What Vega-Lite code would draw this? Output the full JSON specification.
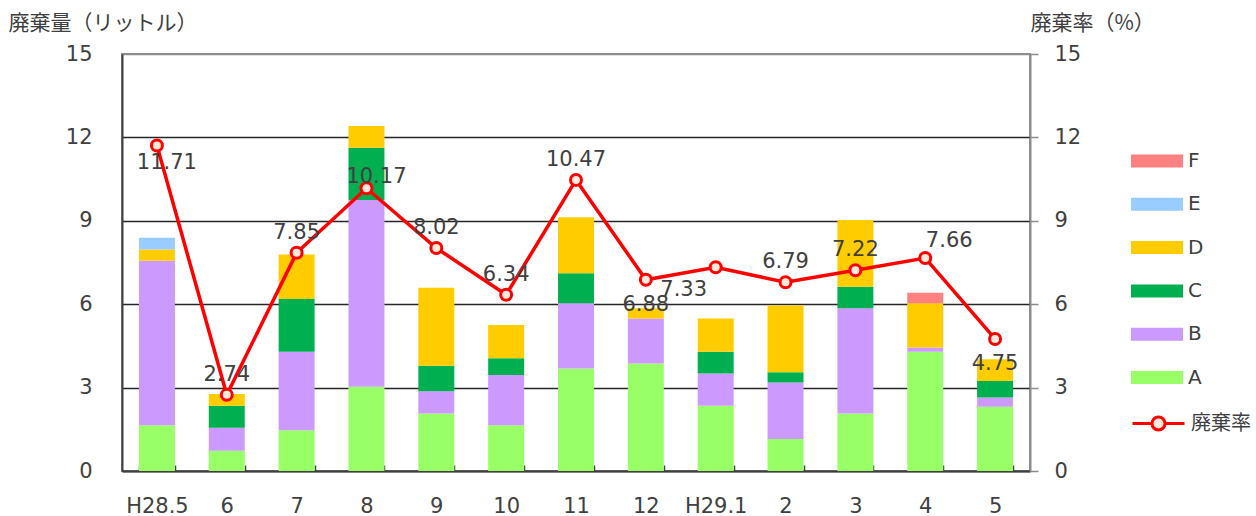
{
  "$schema": "https://vega.github.io/schema/vega-lite/v6.json",
  "width": 908,
  "height": 417,
  "autosize": {"type": "none"},
  "padding": {"left": 122, "top": 54, "right": 226, "bottom": 45},
  "config": {
    "font": "DejaVu Sans",
    "view": {"stroke": "#8c8c8c", "strokeWidth": 2},
    "axis": {
      "labelFont": "DejaVu Sans",
      "labelFontSize": 21,
      "labelColor": "#404040",
      "titleFont": "Noto Sans CJK JP",
      "titleFontSize": 21,
      "titleFontWeight": "normal",
      "titleColor": "#404040"
    },
    "legend": {"labelFont": "Noto Sans CJK JP", "labelFontSize": 20, "labelColor": "#404040", "padding": 0}
  },
  "datasets": {
    "bars": [
      {"month": "H28.5", "cat": "A", "value": 1.65},
      {"month": "H28.5", "cat": "B", "value": 5.91},
      {"month": "H28.5", "cat": "D", "value": 0.41},
      {"month": "H28.5", "cat": "E", "value": 0.42},
      {"month": "6", "cat": "A", "value": 0.73},
      {"month": "6", "cat": "B", "value": 0.83},
      {"month": "6", "cat": "C", "value": 0.79},
      {"month": "6", "cat": "D", "value": 0.42},
      {"month": "7", "cat": "A", "value": 1.47},
      {"month": "7", "cat": "B", "value": 2.82},
      {"month": "7", "cat": "C", "value": 1.90},
      {"month": "7", "cat": "D", "value": 1.60},
      {"month": "8", "cat": "A", "value": 3.03},
      {"month": "8", "cat": "B", "value": 6.72},
      {"month": "8", "cat": "C", "value": 1.88},
      {"month": "8", "cat": "D", "value": 0.78},
      {"month": "9", "cat": "A", "value": 2.07},
      {"month": "9", "cat": "B", "value": 0.80},
      {"month": "9", "cat": "C", "value": 0.92},
      {"month": "9", "cat": "D", "value": 2.80},
      {"month": "10", "cat": "A", "value": 1.65},
      {"month": "10", "cat": "B", "value": 1.80},
      {"month": "10", "cat": "C", "value": 0.61},
      {"month": "10", "cat": "D", "value": 1.19},
      {"month": "11", "cat": "A", "value": 3.69},
      {"month": "11", "cat": "B", "value": 2.34},
      {"month": "11", "cat": "C", "value": 1.08},
      {"month": "11", "cat": "D", "value": 2.02},
      {"month": "12", "cat": "A", "value": 3.87},
      {"month": "12", "cat": "B", "value": 1.62},
      {"month": "12", "cat": "D", "value": 0.36},
      {"month": "H29.1", "cat": "A", "value": 2.35},
      {"month": "H29.1", "cat": "B", "value": 1.16},
      {"month": "H29.1", "cat": "C", "value": 0.78},
      {"month": "H29.1", "cat": "D", "value": 1.20},
      {"month": "2", "cat": "A", "value": 1.15},
      {"month": "2", "cat": "B", "value": 2.03},
      {"month": "2", "cat": "C", "value": 0.37},
      {"month": "2", "cat": "D", "value": 2.40},
      {"month": "3", "cat": "A", "value": 2.07},
      {"month": "3", "cat": "B", "value": 3.78},
      {"month": "3", "cat": "C", "value": 0.78},
      {"month": "3", "cat": "D", "value": 2.40},
      {"month": "4", "cat": "A", "value": 4.29},
      {"month": "4", "cat": "B", "value": 0.15},
      {"month": "4", "cat": "D", "value": 1.59},
      {"month": "4", "cat": "F", "value": 0.38},
      {"month": "5", "cat": "A", "value": 2.31},
      {"month": "5", "cat": "B", "value": 0.33},
      {"month": "5", "cat": "C", "value": 0.60},
      {"month": "5", "cat": "D", "value": 0.78}
    ],
    "rate": [
      {"month": "H28.5", "rate": 11.71},
      {"month": "6", "rate": 2.74},
      {"month": "7", "rate": 7.85},
      {"month": "8", "rate": 10.17},
      {"month": "9", "rate": 8.02},
      {"month": "10", "rate": 6.34},
      {"month": "11", "rate": 10.47},
      {"month": "12", "rate": 6.88},
      {"month": "H29.1", "rate": 7.33},
      {"month": "2", "rate": 6.79},
      {"month": "3", "rate": 7.22},
      {"month": "4", "rate": 7.66},
      {"month": "5", "rate": 4.75}
    ]
  },
  "encoding": {
    "x": {
      "field": "month",
      "type": "nominal",
      "sort": ["H28.5", "6", "7", "8", "9", "10", "11", "12", "H29.1", "2", "3", "4", "5"],
      "scale": {"paddingInner": 0.485, "paddingOuter": 0.2425},
      "axis": {
        "title": null,
        "labelAngle": 0,
        "domainColor": "#404040",
        "domainWidth": 2,
        "tickBand": "extent",
        "tickSize": -6,
        "tickColor": "#404040",
        "tickWidth": 1.5,
        "labelPadding": 30
      }
    }
  },
  "layer": [
    {
      "data": {"name": "bars"},
      "mark": {"type": "bar"},
      "encoding": {
        "y": {
          "field": "value",
          "type": "quantitative",
          "stack": "zero",
          "scale": {"domain": [0, 15]},
          "axis": {
            "title": "廃棄量（リットル）",
            "titleAngle": 0,
            "titleAlign": "left",
            "titleBaseline": "middle",
            "titleX": -114,
            "titleY": -31,
            "values": [0, 3, 6, 9, 12, 15],
            "ticks": false,
            "labelPadding": 30,
            "domainColor": "#404040",
            "domainWidth": 2,
            "grid": true,
            "gridColor": {"condition": {"test": "datum.value === 15", "value": "#8c8c8c"}, "value": "#262626"},
            "gridWidth": 1.5
          }
        },
        "color": {
          "field": "cat",
          "type": "nominal",
          "scale": {
            "domain": ["F", "E", "D", "C", "B", "A"],
            "range": ["#FF8080", "#99CCFF", "#FFCC00", "#00B050", "#CC99FF", "#99FF66"]
          },
          "legend": {
            "orient": "none",
            "legendX": 1022,
            "legendY": 94,
            "title": null,
            "symbolType": "M-2,-0.5H2V0.5H-2Z",
            "symbolSize": 676,
            "symbolStrokeWidth": 0,
            "labelOffset": 18,
            "rowPadding": 20.3,
            "labelFont": "DejaVu Sans"
          }
        },
        "order": {"field": "cat", "sort": "ascending"}
      }
    },
    {
      "data": {"name": "rate"},
      "encoding": {
        "y": {
          "field": "rate",
          "type": "quantitative",
          "scale": {"domain": [0, 15]},
          "axis": {
            "orient": "right",
            "title": "廃棄率（%）",
            "titleAngle": 0,
            "titleAlign": "left",
            "titleBaseline": "middle",
            "titleX": 0,
            "titleY": -31,
            "values": [0, 3, 6, 9, 12, 15],
            "grid": false,
            "domainColor": "#8c8c8c",
            "domainWidth": 2,
            "tickColor": "#8c8c8c",
            "tickSize": 8,
            "tickWidth": 1.5,
            "labelPadding": 16
          }
        }
      },
      "layer": [
        {
          "mark": {"type": "line", "strokeWidth": 3.5},
          "encoding": {
            "stroke": {
              "datum": "廃棄率",
              "type": "nominal",
              "scale": {"range": ["#FF0000"]},
              "legend": {
                "orient": "none",
                "legendX": 1022,
                "legendY": 355,
                "title": null,
                "symbolType": "M-2,0H-0.5M0.5,0H2M-0.5,0A0.5,0.5 0 1,1 0.5,0A0.5,0.5 0 1,1 -0.5,0",
                "symbolSize": 676,
                "labelOffset": 18,
                "encode": {
                  "symbols": {
                    "update": {
                      "fill": {"value": "#FDEADA"},
                      "stroke": {"value": "#FF0000"},
                      "strokeWidth": {"value": 3},
                      "opacity": {"value": 1}
                    }
                  }
                }
              }
            }
          }
        },
        {
          "mark": {"type": "point", "filled": true, "fill": "#FDEADA", "stroke": "#FF0000", "strokeWidth": 3, "size": 120, "opacity": 1}
        },
        {
          "transform": [{"filter": "indexof(['6','7','9','10','11','2','3'], datum.month) >= 0"}],
          "mark": {"type": "text", "fontSize": 21, "color": "#404040", "font": "DejaVu Sans", "dy": -20, "baseline": "middle"},
          "encoding": {"text": {"field": "rate", "type": "quantitative", "format": ".2f"}}
        },
        {
          "transform": [{"filter": "datum.month === '8'"}],
          "mark": {"type": "text", "fontSize": 21, "color": "#404040", "font": "DejaVu Sans", "dx": 10, "dy": -11, "baseline": "middle"},
          "encoding": {"text": {"field": "rate", "type": "quantitative", "format": ".2f"}}
        },
        {
          "transform": [{"filter": "datum.month === '4'"}],
          "mark": {"type": "text", "fontSize": 21, "color": "#404040", "font": "DejaVu Sans", "dx": 24, "dy": -17, "baseline": "middle"},
          "encoding": {"text": {"field": "rate", "type": "quantitative", "format": ".2f"}}
        },
        {
          "transform": [{"filter": "datum.month === 'H28.5'"}],
          "mark": {"type": "text", "fontSize": 21, "color": "#404040", "font": "DejaVu Sans", "dx": 10, "dy": 18, "baseline": "middle"},
          "encoding": {"text": {"field": "rate", "type": "quantitative", "format": ".2f"}}
        },
        {
          "transform": [{"filter": "datum.month === '12' || datum.month === '5'"}],
          "mark": {"type": "text", "fontSize": 21, "color": "#404040", "font": "DejaVu Sans", "dy": 25, "baseline": "middle"},
          "encoding": {"text": {"field": "rate", "type": "quantitative", "format": ".2f"}}
        },
        {
          "transform": [{"filter": "datum.month === 'H29.1'"}],
          "mark": {"type": "text", "fontSize": 21, "color": "#404040", "font": "DejaVu Sans", "dx": -32, "dy": 23, "baseline": "middle"},
          "encoding": {"text": {"field": "rate", "type": "quantitative", "format": ".2f"}}
        }
      ]
    }
  ],
  "resolve": {"scale": {"y": "independent"}}
}
